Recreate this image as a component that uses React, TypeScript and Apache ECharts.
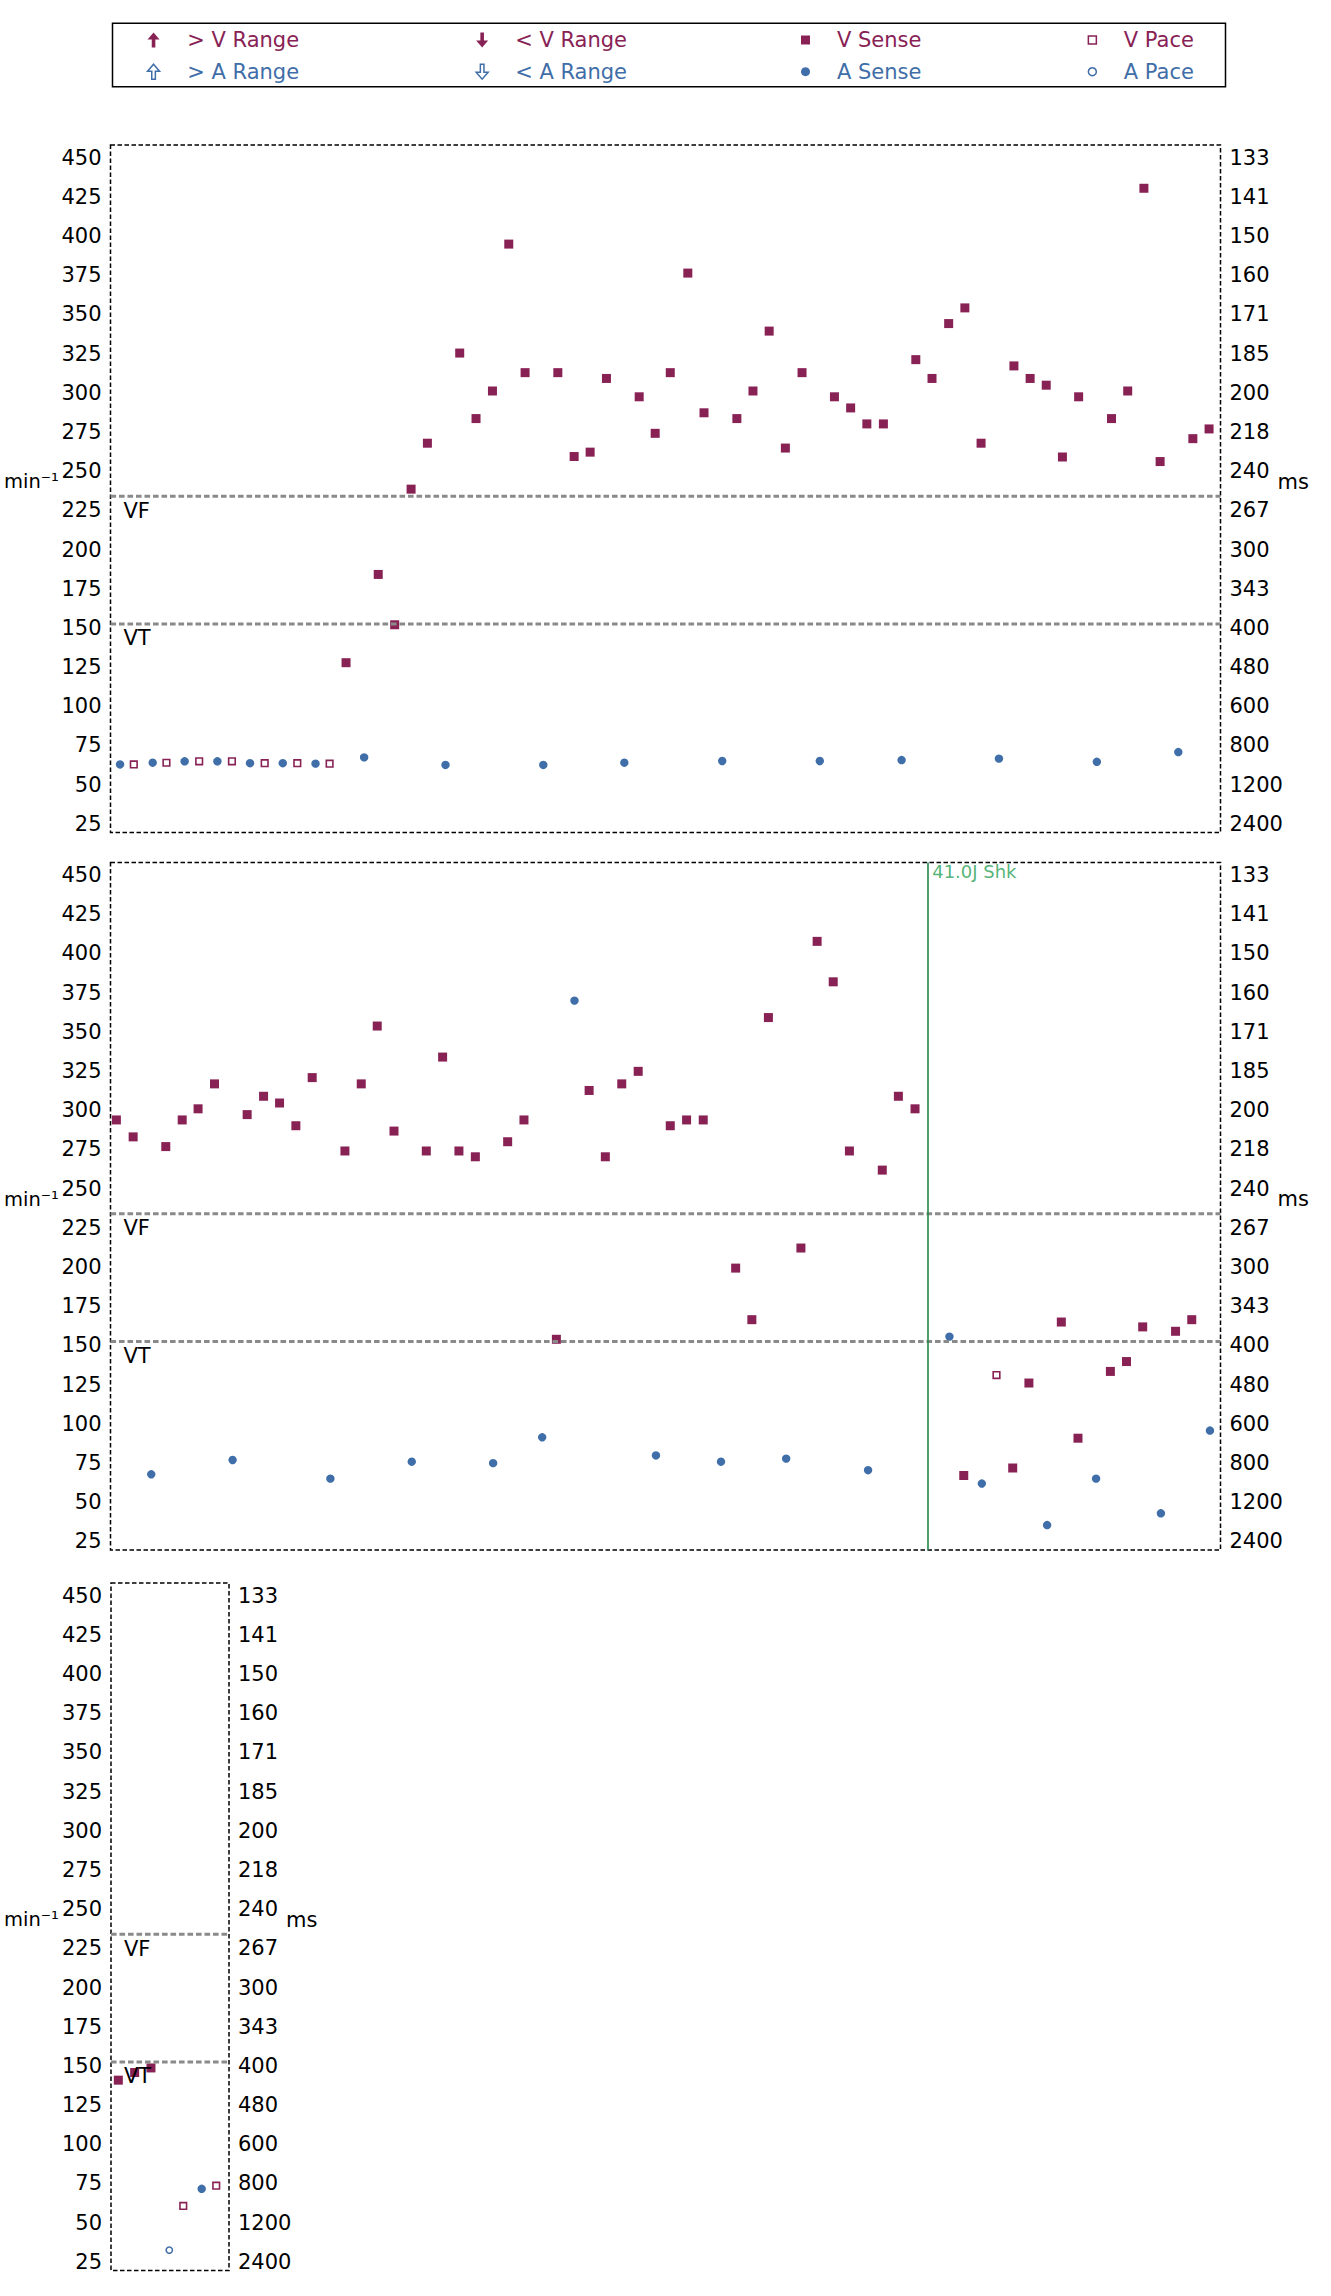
import React, { useEffect, useRef } from 'react';
import * as echarts from 'echarts';

const FONT = 'DejaVu Sans';
const FONT_SIZE = 21;
const V_COLOR = '#882255';
const A_COLOR = '#3f6ea8';
const SHOCK_COLOR = '#23884a';
const ZONE_COLOR = '#8a8a8a';

// rate axis (min^-1), right axis shows the interval in ms
const RATE_MIN = 19.5;
const RATE_MAX = 458;
const RATE_TICKS = [25, 50, 75, 100, 125, 150, 175, 200, 225, 250, 275, 300, 325, 350, 375, 400, 425, 450];

// detection zones
const ZONE_NAMES = ['VF', 'VT'];
const ZONE_RATES = [234, 152.5];

// strip 1 (time in s, rate in min^-1)
const p1VSenseT = [2.122, 2.412, 2.56, 2.708, 2.855, 3.146, 3.293, 3.441, 3.588, 3.735, 4.03, 4.177, 4.321, 4.468, 4.763, 4.907, 5.043, 5.201, 5.347, 5.643, 5.788, 5.934, 6.08, 6.23, 6.522, 6.668, 6.814, 6.963, 7.255, 7.401, 7.551, 7.697, 7.843, 8.139, 8.285, 8.43, 8.576, 8.722, 9.018, 9.164, 9.31, 9.456, 9.751, 9.897];
const p1VSenseR = [127.8, 184.1, 152.0, 238.5, 267.8, 325.3, 283.5, 301.1, 394.8, 312.8, 312.8, 259.3, 262.1, 309.1, 297.4, 274.1, 312.8, 376.3, 287.2, 283.5, 301.1, 339.3, 264.7, 312.8, 297.4, 290.3, 280.1, 280.1, 321.1, 309.1, 344.1, 354.1, 267.8, 317.1, 309.1, 304.8, 259.0, 297.4, 283.5, 301.1, 430.4, 256.1, 270.7, 276.9];
const p1VPaceT = [0.21, 0.504, 0.799, 1.094, 1.389, 1.683, 1.974];
const p1VPaceR = [62.9, 64.0, 64.9, 64.9, 63.7, 63.7, 63.4];
const p1ASenseT = [0.086, 0.38, 0.668, 0.963, 1.257, 1.552, 1.847, 2.285, 3.018, 3.899, 4.629, 5.511, 6.39, 7.127, 8.004, 8.886, 9.62];
const p1ASenseR = [62.9, 64.0, 64.9, 64.9, 63.7, 63.7, 63.4, 67.4, 62.6, 62.6, 64.0, 65.1, 65.1, 65.7, 66.6, 64.6, 70.8];

// strip 2
const p2VSenseT = [0.053, 0.204, 0.498, 0.646, 0.789, 0.937, 1.231, 1.379, 1.523, 1.67, 1.817, 2.112, 2.259, 2.403, 2.554, 2.845, 2.992, 3.139, 3.287, 3.578, 3.725, 4.017, 4.312, 4.458, 4.606, 4.754, 5.043, 5.19, 5.34, 5.632, 5.778, 5.927, 6.22, 6.366, 6.511, 6.657, 6.953, 7.098, 7.248, 7.687, 8.128, 8.274, 8.566, 8.716, 9.008, 9.153, 9.299, 9.595, 9.741];
const p2VSenseR = [293.8, 283.0, 276.8, 293.8, 300.9, 316.8, 297.2, 308.9, 304.6, 290.1, 320.8, 274.0, 316.8, 353.7, 286.7, 274.0, 333.9, 274.0, 270.3, 279.9, 293.8, 153.9, 312.6, 270.3, 316.8, 324.8, 290.1, 293.8, 293.8, 199.3, 166.4, 359.1, 212.1, 407.7, 381.9, 274.0, 261.8, 308.9, 300.9, 67.0, 71.8, 126.0, 164.9, 90.8, 133.4, 139.7, 161.8, 159.0, 166.4];
const p2VPaceT = [7.982];
const p2VPaceR = [131.1];
const p2ASenseT = [0.367, 1.1, 1.981, 2.714, 3.447, 3.889, 4.18, 4.914, 5.5, 6.087, 6.825, 7.558, 7.85, 8.438, 8.879, 9.463, 9.905];
const p2ASenseR = [67.8, 76.9, 65.0, 75.8, 74.9, 91.4, 369.9, 79.8, 75.8, 77.8, 70.4, 155.6, 61.9, 35.4, 65.0, 42.9, 95.7];
const p2ShockT = 7.362;
const p2ShockLabel = '41.0J Shk';

// strip 3
const p3VSenseT = [0.066, 0.213, 0.36];
const p3VSenseR = [140.9, 145.8, 148.7];
const p3VPaceT = [0.651, 0.948];
const p3VPaceR = [60.7, 73.6];
const p3ASenseT = [0.817];
const p3ASenseR = [71.6];
const p3APaceT = [0.525];
const p3APaceR = [32.5];

const UP_ARROW = 'path://M6,0L12,7L7.8,7L7.8,15L4.2,15L4.2,7L0,7Z';
const DOWN_ARROW = 'path://M4.2,0L7.8,0L7.8,8L12,8L6,15L0,8L4.2,8Z';
const SQUARE = 'path://M0,0L10,0L10,10L0,10Z';

const pts = (t: number[], r: number[]) => t.map((x, i) => [x, r[i]]);

const strips = [
  { left: 110.5, top: 145, width: 1110, span: 10, vSense: pts(p1VSenseT, p1VSenseR), vPace: pts(p1VPaceT, p1VPaceR), aSense: pts(p1ASenseT, p1ASenseR), aPace: [] as number[][] },
  { left: 110.5, top: 862.5, width: 1110, span: 10, vSense: pts(p2VSenseT, p2VSenseR), vPace: pts(p2VPaceT, p2VPaceR), aSense: pts(p2ASenseT, p2ASenseR), aPace: [] as number[][] },
  { left: 111, top: 1583, width: 118, span: 1.063, vSense: pts(p3VSenseT, p3VSenseR), vPace: pts(p3VPaceT, p3VPaceR), aSense: pts(p3ASenseT, p3ASenseR), aPace: pts(p3APaceT, p3APaceR) },
];

// left = marker centre minus half the marker width; w sets the marker-to-text distance
const legendColumns = [
  { left: 146.8, w: 57.4, h: 15, items: [
    { name: '> V Range', icon: UP_ARROW, color: V_COLOR, open: false },
    { name: '> A Range', icon: UP_ARROW, color: A_COLOR, open: true },
  ] },
  { left: 475.4, w: 56, h: 15, items: [
    { name: '< V Range', icon: DOWN_ARROW, color: V_COLOR, open: false },
    { name: '< A Range', icon: DOWN_ARROW, color: A_COLOR, open: true },
  ] },
  { left: 801, w: 53, h: 9, items: [
    { name: 'V Sense', icon: SQUARE, color: V_COLOR, open: false },
    { name: 'A Sense', icon: 'circle', color: A_COLOR, open: false },
  ] },
  { left: 1087.6, w: 52.8, h: 8, items: [
    { name: 'V Pace', icon: SQUARE, color: V_COLOR, open: true },
    { name: 'A Pace', icon: 'circle', color: A_COLOR, open: true },
  ] },
];

const App: React.FC = () => {
  const chartRef = useRef<HTMLDivElement>(null);

  useEffect(() => {
    if (!chartRef.current) return;
    const chart = echarts.init(chartRef.current, null, { renderer: 'svg' });

    const labelStyle = { color: '#000', fontSize: FONT_SIZE, fontFamily: FONT };

    const grid = strips.map(s => ({
      left: s.left,
      top: s.top,
      width: s.width,
      height: 687.5,
      show: true,
      borderColor: '#000',
      borderWidth: 1.5,
      borderType: [4.5, 2.5],
      backgroundColor: 'transparent',
      containLabel: false,
      outerBoundsMode: 'none',
    }));

    const xAxis = strips.map((s, i) => ({
      type: 'value',
      gridIndex: i,
      min: 0,
      max: s.span,
      show: false,
    }));

    const yAxis: any[] = [];
    strips.forEach((s, i) => {
      yAxis.push({
        type: 'value',
        gridIndex: i,
        position: 'left',
        min: RATE_MIN,
        max: RATE_MAX,
        name: 'min⁻¹',
        nameLocation: 'middle',
        nameRotate: 0,
        // kept clear of the tick labels
        nameGap: s.left - 4,
        nameMoveOverlap: false,
        nameTextStyle: { ...labelStyle, fontSize: 19.5, align: 'left', verticalAlign: 'bottom', lineHeight: 14 },
        axisLine: { show: false },
        axisTick: { show: false },
        splitLine: { show: false },
        axisLabel: { ...labelStyle, margin: 9, customValues: RATE_TICKS, hideOverlap: false },
      });
      yAxis.push({
        type: 'value',
        gridIndex: i,
        position: 'right',
        min: RATE_MIN,
        max: RATE_MAX,
        name: 'ms',
        nameLocation: 'middle',
        nameRotate: 0,
        nameGap: 57,
        nameMoveOverlap: false,
        nameTextStyle: { ...labelStyle, align: 'left', verticalAlign: 'bottom', lineHeight: 14 },
        axisLine: { show: false },
        axisTick: { show: false },
        splitLine: { show: false },
        axisLabel: {
          ...labelStyle,
          margin: 9,
          customValues: RATE_TICKS,
          hideOverlap: false,
          formatter: (v: number) => String(Math.round(60000 / v)),
        },
      });
    });

    const series: any[] = [];
    strips.forEach((s, i) => {
      const axes = { xAxisIndex: i, yAxisIndex: i * 2 };
      series.push({
        name: 'V Sense', type: 'scatter', ...axes, symbol: 'rect', symbolSize: 9,
        itemStyle: { color: V_COLOR, opacity: 1 }, data: s.vSense, z: 2,
      });
      series.push({
        name: 'V Pace', type: 'scatter', ...axes, symbol: 'rect', symbolSize: 6.6,
        itemStyle: { color: '#fff', borderColor: V_COLOR, borderWidth: 1.6, opacity: 1 }, data: s.vPace, z: 2,
      });
      series.push({
        name: 'A Sense', type: 'scatter', ...axes, symbol: 'circle', symbolSize: 8.4,
        itemStyle: { color: A_COLOR, opacity: 1 }, data: s.aSense, z: 2,
      });
      series.push({
        name: 'A Pace', type: 'scatter', ...axes, symbol: 'circle', symbolSize: 6.4,
        itemStyle: { color: '#fff', borderColor: A_COLOR, borderWidth: 1.5, opacity: 1 }, data: s.aPace, z: 2,
      });
      // zone thresholds, labelled at the start of the strip
      ZONE_NAMES.forEach((zn, k) => {
        series.push({
          name: `${zn} zone`, type: 'line', ...axes, silent: true, z: 3,
          symbol: 'none', showSymbol: true,
          lineStyle: { color: ZONE_COLOR, width: 3, type: [5.6, 2.9], opacity: 1 },
          emphasis: { disabled: true },
          data: [
            {
              value: [0, ZONE_RATES[k]], symbol: 'circle', symbolSize: 0,
              label: { show: true, formatter: zn, position: [13, 4], ...labelStyle },
            },
            { value: [s.span, ZONE_RATES[k]] },
          ],
        });
      });
    });
    // range markers appear in the legend only
    ['> V Range', '< V Range', '> A Range', '< A Range'].forEach(n => {
      series.push({ name: n, type: 'scatter', xAxisIndex: 0, yAxisIndex: 0, data: [] });
    });
    // shock
    series.push({
      name: 'shock', type: 'scatter', xAxisIndex: 1, yAxisIndex: 2, symbolSize: 1,
      itemStyle: { color: 'transparent' }, silent: true,
      data: [[p2ShockT, RATE_MAX]],
      label: {
        show: true, formatter: p2ShockLabel, position: 'right', distance: 4,
        verticalAlign: 'top', align: 'left', color: '#27a055', fontSize: 18, fontFamily: FONT,
      },
      markLine: {
        silent: true, symbol: 'none', animation: false, label: { show: false },
        lineStyle: { color: SHOCK_COLOR, width: 1.6, type: 'solid', opacity: 1 },
        data: [{ xAxis: p2ShockT }],
      },
    });

    const legend = legendColumns.map(col => ({
      orient: 'vertical',
      left: col.left,
      top: 29.5,
      padding: 0,
      itemGap: 10.7,
      itemWidth: col.w,
      itemHeight: col.h,
      selectedMode: false,
      textStyle: { fontSize: FONT_SIZE, fontFamily: FONT, lineHeight: 21 },
      data: col.items.map(it => ({
        name: it.name,
        icon: it.icon,
        itemStyle: it.open
          ? { color: '#fff', borderColor: it.color, borderWidth: 1.5, opacity: 1 }
          : { color: it.color, borderWidth: 0, opacity: 1 },
        textStyle: { color: it.color },
      })),
    }));

    chart.setOption({
      animation: false,
      backgroundColor: '#fff',
      textStyle: { fontFamily: FONT },
      grid,
      xAxis,
      yAxis,
      legend,
      series,
      graphic: [{
        type: 'rect',
        silent: true,
        shape: { x: 112.5, y: 23.3, width: 1113, height: 63.4 },
        style: { fill: 'none', stroke: '#000', lineWidth: 1.5 },
      }],
    });

    return () => {
      chart.dispose();
    };
  }, []);

  return (
    <div
      ref={chartRef}
      style={{ position: 'absolute', left: 0, top: 0, width: 1331, height: 2296, background: '#fff' }}
    />
  );
};

export default App;
